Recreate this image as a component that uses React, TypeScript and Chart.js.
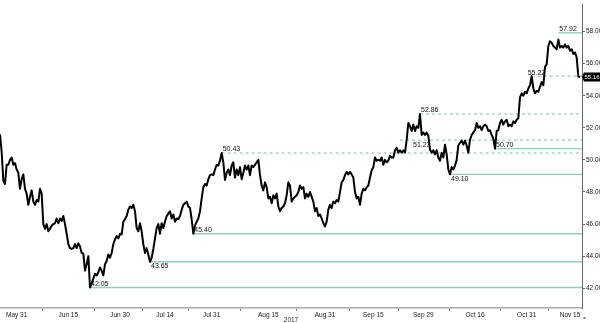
import React, { useEffect, useRef } from 'react';
import { Chart, registerables } from 'chart.js';

Chart.register(...registerables);

// Price trace, one value per bar (evenly spaced in time)
const prices: number[] = [
  51.6, 50.5, 48.7, 48.5, 49.7, 49.7, 50.0, 50.15, 49.7, 49.8,
  49.4, 49.2, 48.2, 48.8, 49.1, 48.2, 47.9, 47.2, 47.7, 48.1,
  47.4, 47.2, 47.5, 47.4, 48.2, 47.9, 46.0, 45.7, 46.0, 45.55,
  45.7, 45.9, 46.0, 46.05, 46.35, 46.05, 46.35, 46.2, 46.5, 46.0,
  45.4, 44.75, 44.5, 44.45, 44.5, 44.75, 44.5, 44.8, 44.6, 44.2,
  44.15, 43.1, 43.5, 44.0, 42.05, 42.3, 42.6, 42.9, 42.8, 43.0,

  43.3, 43.1, 42.8, 43.5, 43.7, 44.1, 43.9, 44.2, 44.75, 45.05,
  45.25, 45.1, 45.4, 45.35, 46.15, 46.3, 46.5, 46.9, 47.1, 47.0,
  47.2, 46.8, 45.75, 45.55, 46.05, 45.55, 44.75, 44.2, 44.5, 44.1,
  43.65, 43.9, 44.45, 45.1, 45.75, 46.0, 45.4, 46.05, 45.75, 46.15,
  46.5, 46.65, 46.8, 46.35, 46.6, 46.15, 46.35, 46.3, 46.5, 46.9,
  47.2, 47.3, 47.4, 47.1, 47.0, 46.3, 45.4, 45.9, 46.15, 46.35,

  46.8, 47.6, 48.3, 48.5, 48.4, 48.8, 49.05, 49.1, 49.05, 49.4,
  49.7, 49.65, 49.95, 50.43, 49.85, 48.75, 49.2, 49.4, 49.05, 49.65,
  49.85, 48.9, 49.4, 49.05, 49.55, 48.8, 49.2, 49.65, 49.4, 49.65,
  49.05, 49.65, 49.55, 49.7, 49.85, 50.0, 49.05, 48.4, 48.1, 48.6,
  48.3, 47.6, 47.7, 47.3, 47.8, 47.6, 47.9, 47.1, 46.8, 47.0,
  47.1, 47.3, 47.8, 48.6, 48.4, 47.4, 47.6, 47.7, 47.8, 48.0,

  48.4, 48.2, 48.3, 47.6, 47.9, 47.7, 48.0, 47.7, 47.4, 46.8,
  47.0, 46.5, 46.6, 46.35, 46.05, 45.85, 46.15, 46.9, 47.2, 47.0,
  47.4, 47.3, 47.5, 47.4, 48.0, 48.6, 48.75, 49.05, 49.25, 49.1,
  49.25, 49.1, 48.9, 48.0, 47.6, 47.7, 47.2, 47.9, 48.2, 48.1,
  48.3, 48.4, 48.9, 49.35, 49.55, 50.15, 49.95, 50.0, 49.95, 50.15,
  49.7, 50.0, 49.85, 49.95, 50.25, 50.15, 50.15, 50.6, 50.75, 50.45,

  50.6, 50.45, 50.6, 50.45, 51.25, 52.3, 52.1, 51.8, 52.2, 51.8,
  52.1, 52.0, 52.86, 51.55, 51.7, 51.55, 51.7, 51.5, 50.65, 50.45,
  50.6, 50.35, 50.6, 50.15, 49.95, 50.45, 50.15, 50.95, 50.35, 49.4,
  49.1, 49.55, 49.4, 49.65, 50.0, 50.9, 51.05, 51.2, 50.95, 51.2,
  50.9, 50.45, 51.25, 51.55, 51.7, 51.85, 52.3, 52.0, 52.1, 51.85,
  52.1, 52.2, 52.1, 51.8, 51.85, 51.55, 51.35, 50.7, 51.8, 51.85,

  52.3, 52.5, 52.2, 52.4, 52.5, 52.1, 52.2, 52.1, 52.4, 52.3,
  52.5, 52.6, 53.9, 54.15, 54.0, 54.25, 54.15, 54.45, 54.65, 55.22,
  54.45, 54.15, 54.3, 54.25, 54.55, 54.85, 54.65, 55.8, 55.95, 57.1,
  57.4, 57.3, 57.1, 57.0, 56.9, 57.5, 57.0, 57.1, 57.0, 57.2,
  57.0, 57.1, 56.8, 56.9, 56.6, 56.7, 56.4, 55.2, 55.16,
];

// X axis date labels and the bar index they sit at
const tickLabels = ['May 31', 'Jun 15', 'Jun 30', 'Jul 14', 'Jul 31', 'Aug 15', 'Aug 31', 'Sep 15', 'Sep 29', 'Oct 16', 'Oct 31', 'Nov 15'];
const tickBars = [10, 41, 72, 99, 127, 161, 195, 224, 254, 285, 316, 342];
const yearLabel = '2017';

// Y axis ticks
const yTicks = [42, 44, 46, 48, 50, 52, 54, 56, 58];

// Marked support / resistance levels
const levelValues = [42.05, 43.65, 45.40, 50.43, 52.86, 51.23, 50.70, 49.10, 55.22, 57.92];
const levelStartBars = [54, 90, 116, 133, 252, 240, 297, 270, 319, 335];
const levelDashed = [false, false, false, true, true, true, false, false, true, false];
const levelLabelAbove = [true, false, true, true, true, false, true, false, true, true];

const lastValue = 55.16;

const X_MIN = 0;
const X_MAX = 349.2;
const Y_MIN = 40.77;
const Y_MAX = 59.66;

const FONT = "'Liberation Sans', Arial, sans-serif";
const LEVEL_COLOR = '#93cdbd';
// horizontal nudge (px) for some level labels so they sit as in the source
const LABEL_NUDGE: Record<number, number> = { 5: 12, 8: -5 };

export default function App() {
  const canvasRef = useRef<HTMLCanvasElement | null>(null);

  useEffect(() => {
    const canvas = canvasRef.current;
    if (!canvas) return;

    const minorTicks: number[] = [];
    for (let i = 0; i < tickBars.length - 1; i++) {
      minorTicks.push((tickBars[i] + tickBars[i + 1]) / 2);
    }
    const allXTicks = [...tickBars, ...minorTicks].sort((a, b) => a - b);

    const levelDatasets = levelValues.map((v, i) => ({
      type: 'line' as const,
      data: [
        { x: levelStartBars[i], y: v },
        { x: X_MAX, y: v },
      ],
      borderColor: LEVEL_COLOR,
      borderWidth: levelDashed[i] ? 1.2 : 1.4,
      borderDash: levelDashed[i] ? [3, 3] : [],
      pointRadius: 0,
      fill: false,
    }));

    const annotationPlugin = {
      id: 'annotations',
      afterDatasetsDraw(chart: any) {
        const ctx = chart.ctx as CanvasRenderingContext2D;
        const xs = chart.scales.x;
        const ys = chart.scales.y;
        const area = chart.chartArea;
        ctx.save();
        ctx.font = `7px ${FONT}`;
        ctx.fillStyle = '#111';
        ctx.textAlign = 'left';
        levelValues.forEach((v, i) => {
          const px = xs.getPixelForValue(levelStartBars[i]) + (LABEL_NUDGE[i] || 0);
          const py = ys.getPixelForValue(v);
          if (levelLabelAbove[i]) {
            ctx.textBaseline = 'bottom';
            ctx.fillText(v.toFixed(2), px + 1, py);
          } else {
            ctx.textBaseline = 'top';
            ctx.fillText(v.toFixed(2), px + 1, py + 1);
          }
        });
        // last value box
        const ly = ys.getPixelForValue(lastValue);
        ctx.fillStyle = '#000';
        ctx.beginPath();
        ctx.moveTo(area.right, ly);
        ctx.lineTo(area.right + 2, ly - 4.5);
        ctx.lineTo(600, ly - 4.5);
        ctx.lineTo(600, ly + 4.5);
        ctx.lineTo(area.right + 2, ly + 4.5);
        ctx.closePath();
        ctx.fill();
        ctx.fillStyle = '#fff';
        ctx.font = `6px ${FONT}`;
        ctx.textBaseline = 'middle';
        ctx.textAlign = 'right';
        ctx.fillText(lastValue.toFixed(2), 599.5, ly + 0.5);
        // year label
        ctx.fillStyle = '#333';
        ctx.font = `6.5px ${FONT}`;
        ctx.textAlign = 'center';
        ctx.textBaseline = 'middle';
        ctx.fillText(yearLabel, (area.left + area.right) / 2, 320);
        // small corner marker
        ctx.fillStyle = '#777';
        ctx.fillRect(area.right + 1.5, 317, 2, 2);
        ctx.restore();
      },
    };

    const chart = new Chart(canvas, {
      type: 'line',
      data: {
        datasets: [
          {
            data: prices.map((p, i) => ({ x: i, y: p })),
            borderColor: '#000',
            borderWidth: 2,
            borderJoinStyle: 'round',
            pointRadius: 0,
            tension: 0,
            fill: false,
          } as any,
          ...levelDatasets,
        ],
      },
      options: {
        responsive: false,
        animation: false,
        events: [],
        layout: { padding: 0 },
        plugins: {
          legend: { display: false },
          tooltip: { enabled: false },
        },
        scales: {
          x: {
            type: 'linear',
            min: X_MIN,
            max: X_MAX,
            afterBuildTicks: (axis: any) => {
              axis.ticks = allXTicks.map((v) => ({ value: v }));
            },
            afterFit: (axis: any) => {
              axis.height = 15;
            },
            ticks: {
              autoSkip: false,
              maxRotation: 0,
              minRotation: 0,
              padding: 0,
              color: '#222',
              font: { family: FONT, size: 6.5 },
              callback: (value: any) => {
                const idx = tickBars.indexOf(Number(value));
                return idx >= 0 ? tickLabels[idx] : '';
              },
            },
            grid: {
              drawOnChartArea: false,
              tickLength: 3,
              color: (ctx: any) =>
                ctx.tick && tickBars.indexOf(ctx.tick.value) >= 0 ? 'rgba(0,0,0,0)' : '#888',
            },
            border: { color: '#aaa', width: 1.5 },
          },
          y: {
            type: 'linear',
            position: 'right',
            min: Y_MIN,
            max: Y_MAX,
            afterBuildTicks: (axis: any) => {
              axis.ticks = yTicks.map((v) => ({ value: v }));
            },
            afterFit: (axis: any) => {
              axis.width = 18;
            },
            ticks: {
              padding: 1,
              color: '#222',
              font: { family: FONT, size: 6.5 },
              callback: (value: any) => Number(value).toFixed(2),
            },
            grid: {
              drawOnChartArea: false,
              tickLength: 3,
              color: '#666',
            },
            border: { color: '#666', width: 1 },
          },
        },
      },
      plugins: [annotationPlugin],
    });

    return () => {
      chart.destroy();
    };
  }, []);

  return (
    <div style={{ position: 'absolute', left: 0, top: 0, width: 600, height: 323, background: '#fff' }}>
      <canvas ref={canvasRef} width={600} height={323} style={{ display: 'block', width: 600, height: 323 }} />
    </div>
  );
}
